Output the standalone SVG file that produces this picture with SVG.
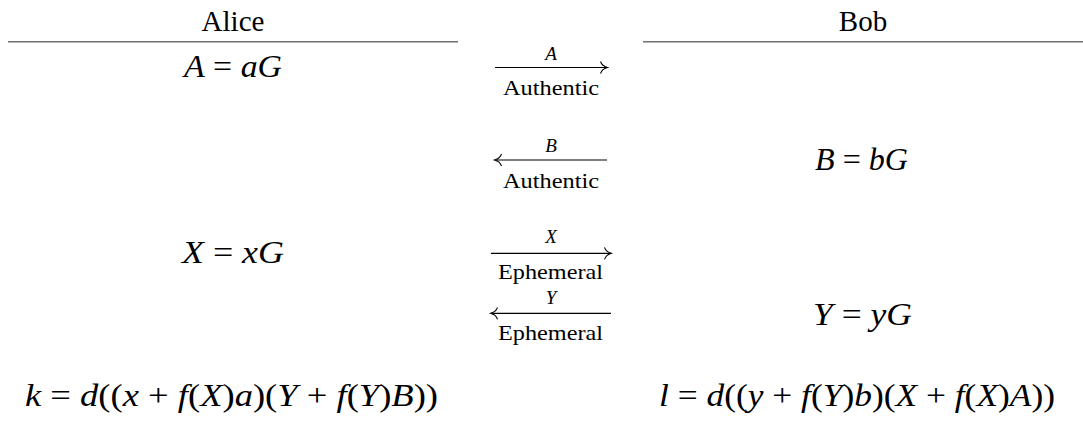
<svg xmlns="http://www.w3.org/2000/svg" width="1083" height="422" viewBox="0 0 1083 422">
<style>
text{font-family:"Liberation Serif","Times New Roman",serif;fill:#000}
.h{font-size:29px;text-anchor:middle}
.m{font-size:31px}
.i{font-style:italic}
.lb{font-size:19px;font-style:italic;text-anchor:middle}
.sub{font-size:22px}
.rule{stroke:#707070;stroke-width:1.4}
.arr{stroke:#000;stroke-width:1.2;fill:none}
</style>
<defs>
<marker id="ah" viewBox="-8 -7 10 14" markerWidth="10" markerHeight="14" refX="0" refY="0" orient="auto-start-reverse" markerUnits="userSpaceOnUse">
<path d="M-6.5,-6 C-5.5,-3 -2.5,-0.8 0.4,0 C-2.5,0.8 -5.5,3 -6.5,6" fill="none" stroke="#000" stroke-width="1.1"/>
</marker>
</defs>
<rect width="1083" height="422" fill="#fff"/>
<g id="alice">
<text class="h" x="233" y="31">Alice</text>
<line class="rule" x1="8" y1="41.7" x2="458" y2="41.7"/>
</g>
<g id="bob">
<text class="h" x="863" y="31">Bob</text>
<line class="rule" x1="643" y1="41.7" x2="1083" y2="41.7"/>
</g>
<g id="alice-A">
<text class="m" x="184" y="77" textLength="98" lengthAdjust="spacingAndGlyphs"><tspan class="i">A</tspan> = <tspan class="i">aG</tspan></text>
</g>
<g id="bob-B">
<text class="m" x="815" y="170" textLength="93" lengthAdjust="spacingAndGlyphs"><tspan class="i">B</tspan> = <tspan class="i">bG</tspan></text>
</g>
<g id="alice-X">
<text class="m" x="182" y="263" textLength="102" lengthAdjust="spacingAndGlyphs"><tspan class="i">X</tspan> = <tspan class="i">xG</tspan></text>
</g>
<g id="bob-Y">
<text class="m" x="813" y="325" textLength="99" lengthAdjust="spacingAndGlyphs"><tspan class="i">Y</tspan> = <tspan class="i">yG</tspan></text>
</g>
<g id="alice-k">
<text class="m" x="25" y="406" textLength="413" lengthAdjust="spacingAndGlyphs"><tspan class="i">k</tspan> = <tspan class="i">d</tspan>((<tspan class="i">x</tspan> + <tspan class="i">f</tspan>(<tspan class="i">X</tspan>)<tspan class="i">a</tspan>)(<tspan class="i">Y</tspan> + <tspan class="i">f</tspan>(<tspan class="i">Y</tspan>)<tspan class="i">B</tspan>))</text>
</g>
<g id="bob-l">
<text class="m" x="659" y="406" textLength="396" lengthAdjust="spacingAndGlyphs"><tspan class="i">l</tspan> = <tspan class="i">d</tspan>((<tspan class="i">y</tspan> + <tspan class="i">f</tspan>(<tspan class="i">Y</tspan>)<tspan class="i">b</tspan>)(<tspan class="i">X</tspan> + <tspan class="i">f</tspan>(<tspan class="i">X</tspan>)<tspan class="i">A</tspan>))</text>
</g>
<g id="connectors">
<g id="msg-A">
<line class="arr" x1="495" y1="67.5" x2="607" y2="67.5" marker-end="url(#ah)"/>
<text class="lb" x="551" y="59.5">A</text>
<text class="sub" x="503" y="95" textLength="96" lengthAdjust="spacingAndGlyphs">Authentic</text>
</g>
<g id="msg-B">
<line class="arr" x1="495" y1="160" x2="607" y2="160" marker-start="url(#ah)"/>
<text class="lb" x="551" y="152">B</text>
<text class="sub" x="503" y="188" textLength="96" lengthAdjust="spacingAndGlyphs">Authentic</text>
</g>
<g id="msg-X">
<line class="arr" x1="491" y1="253.3" x2="611" y2="253.3" marker-end="url(#ah)"/>
<text class="lb" x="551" y="243">X</text>
<text class="sub" x="498" y="279" textLength="105" lengthAdjust="spacingAndGlyphs">Ephemeral</text>
</g>
<g id="msg-Y">
<line class="arr" x1="491" y1="313.3" x2="611" y2="313.3" marker-start="url(#ah)"/>
<text class="lb" x="551" y="304">Y</text>
<text class="sub" x="498" y="340" textLength="105" lengthAdjust="spacingAndGlyphs">Ephemeral</text>
</g>
</g>
</svg>
